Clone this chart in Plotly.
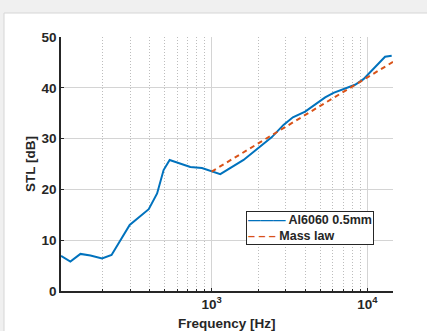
import math
import plotly.graph_objects as go

# Measured STL of Al6060 0.5 mm panel
freq_hz = [108, 124, 144, 167, 198, 228, 298, 395, 447, 492, 538, 630, 730, 867,
           1020, 1137, 1604, 2000, 2437, 2894, 3324, 3985, 4740, 5357, 6057,
           7015, 8335, 9435, 10940, 12980, 14320]
stl_db = [6.9, 5.8, 7.3, 7.0, 6.4, 7.1, 13.0, 16.1, 19.2, 23.8, 25.8, 25.1, 24.4,
          24.2, 23.5, 23.0, 25.8, 28.1, 30.3, 32.7, 34.2, 35.3, 36.9, 38.1, 39.0,
          39.7, 40.6, 41.7, 43.8, 46.1, 46.3]

# Mass law prediction
mass_freq_hz = [1000, 1250, 1600, 2000, 2500, 3150, 4000, 5000, 6300, 8000,
                10000, 12500, 14600]
mass_db = [23.5, 25.3, 27.3, 29.1, 30.9, 32.7, 34.6, 36.4, 38.3, 40.2, 42.0,
           43.8, 45.1]

series_names = ["Al6060 0.5mm", "Mass law"]
x_title = "Frequency [Hz]"
y_title = "STL [dB]"
major_ticks = [1000, 10000]
major_text = ["10<sup>3</sup>", "10<sup>4</sup>"]
minor_ticks = [200, 300, 400, 500, 600, 700, 800, 900,
               2000, 3000, 4000, 5000, 6000, 7000, 8000, 9000]
y_ticks = [0, 10, 20, 30, 40, 50]

x_min, x_max = 108, 14600

FONT = "Liberation Sans, Arial, sans-serif"
INK = "#262626"
BLUE = "#0072BD"
ORANGE = "#D95319"
W, H = 427, 331
ml, mr, mt, mb = 61, 34, 37, 40
pw, ph = W - ml - mr, H - mt - mb

xr = [math.log10(x_min), math.log10(x_max)]


def px2paper_x(p):
    return (p - ml) / pw


def px2paper_y(p):
    return (H - mb - p) / ph


fig = go.Figure()
fig.add_trace(go.Scatter(x=freq_hz, y=stl_db, mode="lines", name=series_names[0],
                         line=dict(color=BLUE, width=2)))
fig.add_trace(go.Scatter(x=mass_freq_hz, y=mass_db, mode="lines", name=series_names[1],
                         line=dict(color=ORANGE, width=2, dash="5px,4px")))
# invisible trace holding the minor-grid axis
fig.add_trace(go.Scatter(x=[], y=[], xaxis="x2", showlegend=False, hoverinfo="skip"))

# white figure panel over grey window background
fig.add_shape(type="rect", xref="paper", yref="paper", layer="below",
              x0=px2paper_x(4), x1=px2paper_x(440), y0=px2paper_y(345), y1=px2paper_y(13),
              fillcolor="white", line=dict(color="#d6d6d6", width=1))

# boxed legend
legend_text = (f"<span style='color:{BLUE}'>\u2014\u2014\u2014</span> {series_names[0]}<br>"
               f"<span style='color:{ORANGE}'>\u2013 \u2013 \u2013</span> {series_names[1]}")
fig.add_annotation(xref="paper", yref="paper", x=px2paper_x(246), y=px2paper_y(211),
                   xanchor="left", yanchor="top", align="left", showarrow=False,
                   text=legend_text, bgcolor="white", bordercolor=INK, borderwidth=1,
                   borderpad=1,
                   font=dict(family=FONT, size=12.5, color=INK, weight="bold"))

# x-axis title near the bottom edge, as in the original
fig.add_annotation(xref="paper", yref="paper", x=0.5, y=px2paper_y(323.5),
                   xanchor="center", yanchor="middle", showarrow=False,
                   text=x_title,
                   font=dict(family=FONT, size=13.5, color=INK, weight="bold"))

fig.update_layout(
    width=W, height=H,
    margin=dict(l=ml, r=mr, t=mt, b=mb),
    paper_bgcolor="#f0f0f0",
    plot_bgcolor="white",
    font=dict(family=FONT, size=13, color=INK, weight="bold"),
    showlegend=False,
    xaxis=dict(type="log", range=xr, tickvals=major_ticks, ticktext=major_text,
               ticks="inside", ticklen=3, tickcolor=INK,
               showline=True, linecolor=INK, linewidth=1.5,
               showgrid=True, gridcolor="#d4d4d4", gridwidth=1,
               zeroline=False, mirror=False,
               tickfont=dict(family=FONT, size=13.5, color=INK, weight="bold"),
               automargin=False),
    xaxis2=dict(type="log", range=xr, overlaying="x", anchor="y", side="bottom",
                tickvals=minor_ticks, showticklabels=False,
                ticks="inside", ticklen=2, tickcolor=INK,
                showgrid=True, gridcolor="#bdbdbd", gridwidth=1, griddash="1px,2px",
                showline=False, zeroline=False),
    yaxis=dict(range=[0, 50], tickvals=y_ticks,
               ticks="inside", ticklen=3, tickcolor=INK,
               showline=True, linecolor=INK, linewidth=1.5,
               showgrid=True, gridcolor="#d4d4d4", gridwidth=1,
               zeroline=False,
               tickfont=dict(family=FONT, size=13.5, color=INK, weight="bold"),
               title=dict(text=y_title, standoff=3,
                          font=dict(family=FONT, size=13.5, color=INK, weight="bold")),
               automargin=False),
)

fig.write_html("out.html", config={"displayModeBar": False},
               post_script="document.body.style.margin='0';document.body.style.overflow='hidden';")
